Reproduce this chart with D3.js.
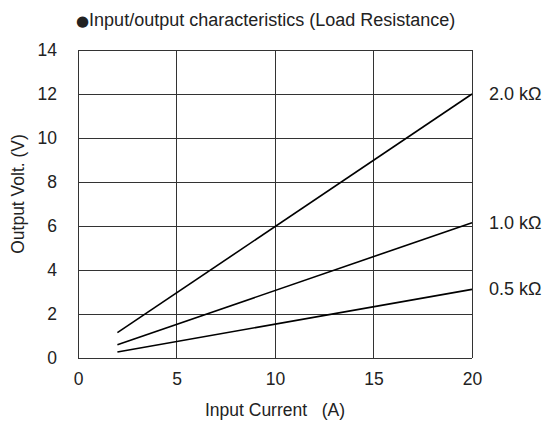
<!DOCTYPE html>
<html><head><meta charset="utf-8">
<script src="https://cdn.jsdelivr.net/npm/d3@7"></script>
<style>body{margin:0;background:#fff}svg{display:block}text{font-family:"Liberation Sans",Arial,sans-serif;fill:#222}</style>
</head><body><svg id="c" width="547" height="421"></svg>
<script>
const xTicks = [0, 5, 10, 15, 20];
const yTicks = [0, 2, 4, 6, 8, 10, 12, 14];
const xValues = [2, 20];
const series2k = [1.15, 12.0];
const series1k = [0.6, 6.15];
const series05k = [0.27, 3.12];
const seriesLabels = ["2.0 kΩ", "1.0 kΩ", "0.5 kΩ"];
const allSeries = [series2k, series1k, series05k];

const FS = 17.5;
const svg = d3.select("#c");
const m = {l: 78, r: 472, t: 50, b: 358};
const x = d3.scaleLinear().domain([0, 20]).range([m.l, m.r]);
const y = d3.scaleLinear().domain([0, 14]).range([m.b, m.t]);

// grid
svg.append("g").selectAll("line").data(yTicks).join("line")
  .attr("x1", m.l).attr("x2", m.r).attr("y1", d => y(d)).attr("y2", d => y(d))
  .attr("stroke", "#333").attr("stroke-width", 1).attr("shape-rendering", "crispEdges");
svg.append("g").selectAll("line").data(xTicks).join("line")
  .attr("y1", m.t).attr("y2", m.b).attr("x1", d => x(d)).attr("x2", d => x(d))
  .attr("stroke", "#333").attr("stroke-width", 1).attr("shape-rendering", "crispEdges");

// axes labels via d3 axes (no domain/ticks lines)
const xa = svg.append("g").attr("transform", `translate(0,${m.b})`)
  .call(d3.axisBottom(x).tickValues(xTicks).tickSize(0).tickPadding(15));
xa.select(".domain").remove();
xa.selectAll("text").attr("font-size", FS).attr("font-family", "Liberation Sans, Arial, sans-serif").attr("fill", "#222");
const ya = svg.append("g").attr("transform", `translate(${m.l},0)`)
  .call(d3.axisLeft(y).tickValues(yTicks).tickSize(0).tickPadding(21));
ya.select(".domain").remove();
ya.selectAll("text").attr("font-size", FS).attr("font-family", "Liberation Sans, Arial, sans-serif").attr("fill", "#222");

// lines
const line = d3.line().x((d, i) => x(xValues[i])).y(d => y(d));
svg.append("g").selectAll("path").data(allSeries).join("path")
  .attr("d", d => line(d)).attr("fill", "none").attr("stroke", "#000").attr("stroke-width", 1.6);

// series labels
svg.append("g").selectAll("text").data(allSeries).join("text")
  .attr("x", 489).attr("y", d => y(d[1]) + 6)
  .attr("font-size", 18).text((d, i) => seriesLabels[i]);

// title
const t = svg.append("text").attr("x", 76).attr("y", 26).attr("font-size", 18);
t.append("tspan").attr("font-family", "DejaVu Sans").attr("font-size", 15).text("●");
t.append("tspan").text("Input/output characteristics (Load Resistance)");
// axis titles
svg.append("text").attr("x", 275).attr("y", 416).attr("text-anchor", "middle").attr("font-size", FS)
  .style("white-space", "pre").text("Input Current   (A)");
svg.append("text").attr("transform", "translate(24,194) rotate(-90)").attr("text-anchor", "middle")
  .attr("font-size", FS).text("Output Volt. (V)");
</script></body></html>
